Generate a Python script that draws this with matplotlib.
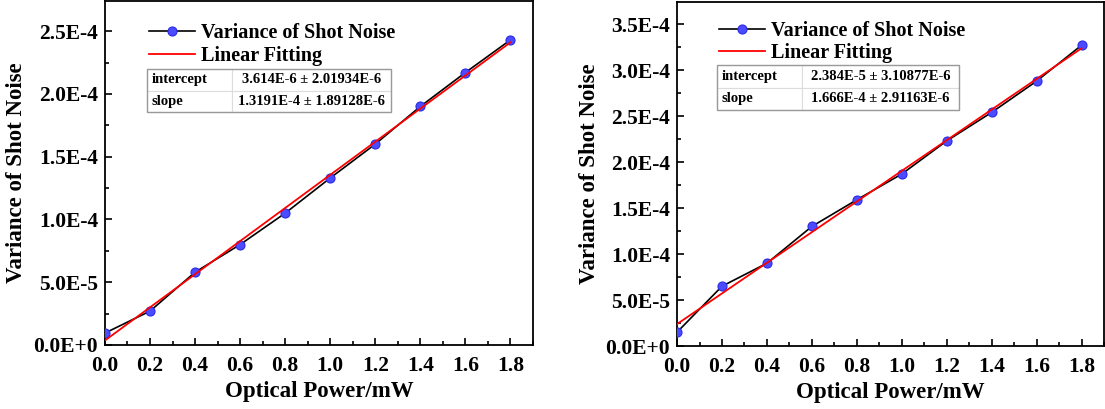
import matplotlib.pyplot as plt
from matplotlib.ticker import FuncFormatter, MultipleLocator
from matplotlib.patches import Rectangle

plt.rcParams['font.family'] = ['Liberation Serif', 'DejaVu Serif']
plt.rcParams['font.weight'] = 'bold'
plt.rcParams['axes.labelweight'] = 'bold'

# optical power (mW)
power = [0.0, 0.2, 0.4, 0.6, 0.8, 1.0, 1.2, 1.4, 1.6, 1.8]

# measured variance, left and right panels
variance_a = [9.5e-6, 2.7e-5, 5.8e-5, 8.0e-5, 1.05e-4, 1.33e-4, 1.60e-4, 1.90e-4, 2.17e-4, 2.43e-4]
variance_b = [1.5e-5, 6.5e-5, 9.0e-5, 1.30e-4, 1.59e-4, 1.87e-4, 2.23e-4, 2.54e-4, 2.88e-4, 3.27e-4]

# linear fit results
fit_a = {'intercept': 3.614e-6, 'slope': 1.3191e-4}
fit_b = {'intercept': 2.384e-5, 'slope': 1.666e-4}
fit_text_a = [['intercept', '3.614E-6 ± 2.01934E-6'],
              ['slope', '1.3191E-4 ± 1.89128E-6']]
fit_text_b = [['intercept', '2.384E-5 ± 3.10877E-6'],
              ['slope', '1.666E-4 ± 2.91163E-6']]


def sci_fmt(v, pos):
    if abs(v) < 1e-12:
        return '0.0E+0'
    s = '{:.1E}'.format(v)
    mant, exp = s.split('E')
    sign = exp[0]
    exp = str(int(exp[1:]))
    return '{}E{}{}'.format(mant, sign, exp)


def draw_panel(ax, y, fit, cells, ymax, ystep, table_box, leg_anchor):
    ax.plot(power, y, color='black', lw=1.2, marker='o', ms=6.5,
            mfc='#4b4bff', mec='#2a2ae6', mew=0.8, label='Variance of Shot Noise', zorder=3)
    xf = [power[0], power[-1]]
    yf = [fit['intercept'] + fit['slope'] * x for x in xf]
    ax.plot(xf, yf, color='red', lw=1.3, label='Linear Fitting', zorder=4)

    ax.set_xlim(0, 1.9)
    ax.set_ylim(0, ymax)
    ax.xaxis.set_major_locator(MultipleLocator(0.2))
    ax.xaxis.set_minor_locator(MultipleLocator(0.1))
    ax.yaxis.set_major_locator(MultipleLocator(ystep))
    ax.yaxis.set_minor_locator(MultipleLocator(ystep / 2))
    ax.xaxis.set_major_formatter(FuncFormatter(lambda v, p: '{:.1f}'.format(v)))
    ax.yaxis.set_major_formatter(FuncFormatter(sci_fmt))
    ax.tick_params(which='both', direction='in', labelsize=15.5, width=1.2)
    ax.tick_params(which='major', length=5)
    ax.tick_params(which='minor', length=3)
    ax.tick_params(axis='x', which='major', pad=8)
    ax.tick_params(axis='y', which='major', pad=5)
    for sp in ax.spines.values():
        sp.set_linewidth(1.3)

    ax.set_xlabel('Optical Power/mW', fontsize=16.5)
    ax.set_ylabel('Variance of Shot Noise', fontsize=16.5)
    ax.xaxis.set_label_coords(0.5, -0.105)

    ax.legend(loc='upper left', bbox_to_anchor=leg_anchor, frameon=False,
              fontsize=14.5, handlelength=2.3, handletextpad=0.3,
              labelspacing=0.12, borderpad=0, borderaxespad=0)

    # fit parameter table
    tb = ax.table(cellText=cells, cellLoc='center', colWidths=[0.35, 0.65],
                  bbox=table_box)
    tb.auto_set_font_size(False)
    for (r, c), cell in tb.get_celld().items():
        cell.set_edgecolor('#dcdcdc')
        cell.set_linewidth(0.8)
        cell.get_text().set_fontsize(10.5)
        cell.get_text().set_fontweight('bold')
        if c == 0:
            cell.get_text().set_horizontalalignment('left')
            cell._loc = 'left'
            cell.PAD = 0.05
    x0, y0, w, h = table_box
    ax.add_patch(Rectangle((x0, y0), w, h, transform=ax.transAxes, fill=False,
                           edgecolor='#9a9a9a', lw=1.0, zorder=6))


fig = plt.figure(figsize=(11.05, 4.09), dpi=100)
ax1 = fig.add_axes([0.095, 0.1565, 0.3873, 0.841])
ax2 = fig.add_axes([0.6127, 0.154, 0.3864, 0.841])

draw_panel(ax1, variance_a, fit_a, fit_text_a, 2.74e-4, 5e-5,
           [0.098, 0.677, 0.570, 0.125], (0.102, 0.935))
draw_panel(ax2, variance_b, fit_b, fit_text_b, 3.74e-4, 5e-5,
           [0.094, 0.686, 0.566, 0.131], (0.098, 0.945))

ax1.yaxis.set_label_coords(-0.182, 0.5)
ax2.yaxis.set_label_coords(-0.18, 0.5)

fig.savefig('out.png', dpi=100)
